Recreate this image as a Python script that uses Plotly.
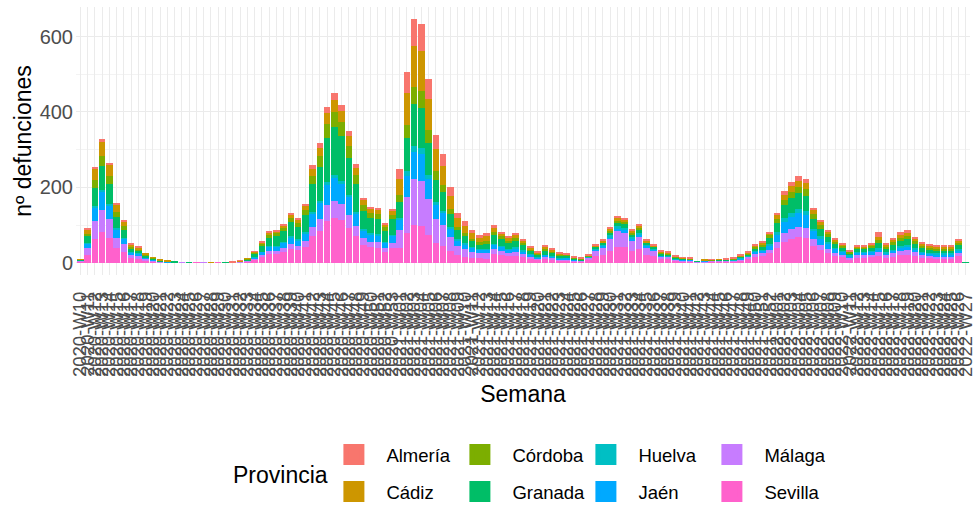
import plotly.graph_objects as go

# ISO week categories: 2020-W10 .. 2022-W27
years_weeks = [(2020, 10, 53), (2021, 1, 52), (2022, 1, 27)]
semanas = [f"{y}-W{w:02d}" for y, a, b in years_weeks for w in range(a, b + 1)]

provincias = ["Almería", "Cádiz", "Córdoba", "Granada", "Huelva", "Jaén", "Málaga", "Sevilla"]
colores = ["#F8766D", "#CD9600", "#7CAE00", "#00BE67", "#00BFC4", "#00A9FF", "#C77CFF", "#FF61CC"]

almeria = [0,2,5,7,5,3,2,1,1,0,0,0,0,0,
           0,0,0,0,0,0,0,1,1,
           0,1,2,3,4,4,5,5,6,10,13,17,18,17,14,11,7,6,6,4,6,
           27,56,71,70,54,37,32,22,15,12,10,8,9,
           6,5,4,5,4,3,2,3,2,2,1,1,1,
           1,1,2,3,4,4,3,3,2,1,
           2,2,1,1,1,0,0,1,0,1,1,1,2,3,3,
           4,7,10,11,12,11,7,6,4,3,3,2,2,2,3,
           14,4,5,6,6,5,4,3,3,3,3,4,0]
cadiz = [1,11,31,39,32,19,13,6,5,3,2,1,1,0,
         0,0,0,0,1,0,0,0,1,
         1,2,4,6,6,7,9,8,11,18,22,29,32,29,25,18,12,10,10,7,10,
         42,86,110,107,83,58,49,34,23,19,15,13,14,
         10,8,7,8,6,4,3,5,4,3,2,2,1,
         1,3,4,6,7,7,5,6,4,3,
         3,3,2,2,1,0,1,1,1,1,1,2,3,5,6,
         6,9,13,15,16,16,10,8,6,4,4,2,3,3,4,
         8,5,7,8,9,7,5,5,5,5,5,6,0]
cordoba = [0,7,20,26,21,13,9,4,3,2,1,1,0,0,
           0,0,0,0,0,0,0,0,0,
           1,3,5,7,8,9,12,11,14,23,29,37,41,38,32,24,16,13,13,10,13,
           17,35,45,44,34,24,20,14,9,8,6,5,6,
           10,8,7,8,6,4,3,5,4,3,2,2,1,
           1,2,2,4,5,5,4,4,2,2,
           3,2,2,1,1,0,1,1,1,1,1,2,2,4,5,
           7,11,15,17,18,18,12,9,7,5,4,3,4,4,4,
           8,5,7,8,9,7,5,5,5,5,5,6,0]
granada = [2,17,48,62,51,30,21,10,8,5,3,2,1,1,
           0,1,0,0,0,0,1,0,1,
           3,8,16,23,25,29,37,33,44,73,89,116,126,117,98,74,48,41,41,30,40,
           42,86,110,107,83,58,49,34,23,19,15,13,14,
           22,18,15,18,14,9,6,10,8,6,5,3,3,
           2,4,5,7,10,10,7,8,5,4,
           5,4,3,2,2,1,1,1,2,2,2,3,4,7,8,
           15,24,34,39,41,40,26,20,15,12,9,6,8,8,9,
           13,9,12,15,15,12,10,9,8,8,8,11,1]
huelva = [0,2,5,7,5,3,2,1,1,0,0,0,0,0,
          0,0,0,0,0,0,0,0,0,
          0,1,1,2,2,2,3,2,3,5,6,8,9,8,7,5,3,3,3,2,3,
          6,13,16,16,12,8,7,5,3,3,2,2,2,
          3,2,2,2,2,1,1,1,1,1,1,0,0,
          1,2,3,5,6,6,4,5,3,2,
          1,1,1,1,0,0,0,0,0,0,1,1,1,2,2,
          4,7,10,11,12,11,7,6,4,3,3,2,2,2,3,
          4,3,3,4,4,3,3,2,2,2,2,3,0]
jaen = [1,13,36,46,37,22,16,7,6,3,2,1,1,0,
        0,0,0,0,0,0,0,0,0,
        2,4,7,11,11,14,17,15,20,34,41,54,59,54,46,34,22,19,19,14,19,
        27,56,71,70,54,37,32,22,15,12,10,8,9,
        12,10,8,10,8,5,3,5,4,3,3,2,2,
        1,3,4,6,7,7,5,6,4,3,
        3,2,2,1,1,0,1,1,1,1,1,2,2,4,5,
        12,20,29,32,35,33,22,17,13,10,8,5,7,7,8,
        7,5,7,8,9,7,5,5,5,5,5,6,0]
malaga = [3,16,46,59,48,28,20,9,8,4,3,1,1,1,
          1,0,0,1,0,0,0,1,1,
          1,3,6,8,9,10,13,12,16,26,32,41,45,42,35,26,17,15,15,11,14,
          47,96,123,120,93,64,55,38,25,21,17,14,15,
          12,10,8,10,8,5,4,5,4,3,3,2,2,
          7,16,20,31,41,39,29,33,20,16,
          7,6,3,3,3,1,2,2,2,2,3,4,6,10,11,
          10,16,23,26,28,27,18,14,10,8,6,4,6,6,6,
          10,8,10,12,13,10,8,7,7,7,7,9,0]
sevilla = [3,22,64,82,67,39,29,12,10,7,4,2,1,1,
           1,1,1,0,1,1,0,1,2,
           4,8,16,23,23,29,37,33,43,70,85,111,120,114,93,71,48,41,39,28,39,
           40,79,100,98,75,53,44,31,20,16,13,12,11,
           24,22,19,19,15,12,8,11,10,6,7,4,3,
           7,17,21,31,43,41,31,36,21,17,
           9,10,5,4,4,2,2,3,3,3,3,6,10,15,17,
           25,39,56,63,68,66,44,33,27,19,15,9,14,14,15,
           18,13,15,20,21,18,14,12,11,11,11,18,1]

y_ticks = [0, 200, 400, 600]

series = {
    "Almería": almeria, "Cádiz": cadiz, "Córdoba": cordoba, "Granada": granada,
    "Huelva": huelva, "Jaén": jaen, "Málaga": malaga, "Sevilla": sevilla,
}

FONT = "Liberation Sans, Arial, Helvetica, sans-serif"
fig = go.Figure()

# stacking: first trace at the bottom (Sevilla), last on top (Almería)
for i in reversed(range(len(provincias))):
    p = provincias[i]
    fig.add_trace(go.Bar(
        x=semanas, y=series[p], name=p,
        marker=dict(color=colores[i], line=dict(width=0)),
        showlegend=False, legendgroup=p,
    ))

# legend keys (ggplot-like filled squares), two rows ordered column-wise
row1 = ["Almería", "Córdoba", "Huelva", "Málaga"]
for i, p in enumerate(provincias):
    fig.add_trace(go.Scatter(
        x=[None], y=[None], mode="markers", name=p, legendgroup=p,
        marker=dict(symbol="square", size=16, color=colores[i],
                    line=dict(width=5, color=colores[i])),
        legend="legend" if p in row1 else "legend2",
        legendrank=i + 1, hoverinfo="skip",
    ))

totals = [sum(v) for v in zip(*series.values())]
ymax = max(totals)

legend_common = dict(
    orientation="h", xanchor="left", yanchor="middle",
    x=0.2745, font=dict(size=18.5, family=FONT, color="black"),
    itemwidth=55, entrywidth=56, traceorder="normal",
    bgcolor="rgba(0,0,0,0)", tracegroupgap=0,
)

fig.update_layout(
    width=976, height=510,
    margin=dict(l=76, r=6, t=7, b=235, autoexpand=False),
    paper_bgcolor="white", plot_bgcolor="white",
    barmode="stack", bargap=0.1,
    font=dict(family=FONT, color="black"),
    showlegend=True,
    legend=dict(**legend_common, y=-0.672),
    legend2=dict(**legend_common, y=-0.81),
    xaxis=dict(
        type="category", tickmode="array", tickvals=semanas, ticktext=semanas,
        tickangle=-90, tickfont=dict(size=18.5, color="#4D4D4D", family=FONT),
        ticklabelstandoff=12,
        showgrid=True, gridcolor="#EBEBEB", gridwidth=1.1,
        range=[-0.6, len(semanas) - 0.4], ticks="", showline=False, zeroline=False,
        automargin=False,
        title=dict(text="Semana", font=dict(size=23, color="black", family=FONT), standoff=9),
    ),
    yaxis=dict(
        range=[-0.05 * ymax, 1.05 * ymax],
        tickmode="array", tickvals=y_ticks, ticktext=[str(v) for v in y_ticks],
        tickfont=dict(size=20, color="#4D4D4D", family=FONT),
        ticklabelstandoff=2,
        showgrid=True, gridcolor="#EBEBEB", gridwidth=1.1,
        minor=dict(tickmode="linear", tick0=0, dtick=100, showgrid=True,
                   gridcolor="#F3F3F3", gridwidth=0.6),
        ticks="", showline=False, zeroline=False, automargin=False,
        title=dict(text="nº defunciones", font=dict(size=23, color="black", family=FONT), standoff=1),
    ),
    annotations=[dict(
        text="Provincia", xref="paper", yref="paper", x=0.2293, y=-0.746,
        xanchor="center", yanchor="middle", showarrow=False,
        font=dict(size=23, color="black", family=FONT),
    )],
)

# remove the browser's default 8px body margin so the figure sits at the window origin
fig.write_html("out.html", config={"displayModeBar": False},
               post_script="document.body.style.margin='0px';")
